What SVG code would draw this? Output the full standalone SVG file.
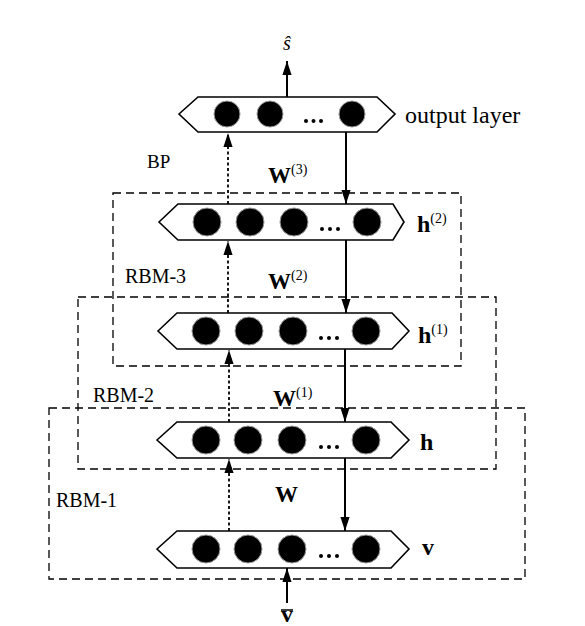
<svg xmlns="http://www.w3.org/2000/svg" width="585" height="626" viewBox="0 0 585 626">
<style>
  .hex { fill: #fff; stroke: #000; stroke-width: 1.6; }
  .neu { fill: #000; stroke: #9a9a9a; stroke-width: 1; }
  .dot { fill: #000; }
  .box { fill: none; stroke: #000; stroke-width: 1.3; stroke-dasharray: 8 5; }
  .solid { stroke: #000; stroke-width: 2; fill: none; }
  .dotted { stroke: #000; stroke-width: 1.8; fill: none; stroke-dasharray: 3 2.5; }
  .t { font-family: "Liberation Serif", "Times New Roman", serif; fill: #000; }
  .lbl { font-size: 20px; }
  .w { font-size: 23px; font-weight: bold; }
  .hl { font-size: 24px; font-weight: bold; }
  .sup { font-size: 14px; font-weight: normal; }
</style>
<defs>
  <marker id="ah" markerUnits="userSpaceOnUse" markerWidth="14" markerHeight="22" refX="20" refY="6.5" orient="auto" viewBox="0 0 20 13">
    <path d="M0,0 L20,6.5 L0,13 Z" fill="#000"/>
  </marker>
</defs>

<g id="rbm-boxes">
  <rect id="rbm3" class="box" x="113" y="193" width="348" height="173"/>
  <rect id="rbm2" class="box" x="78" y="297" width="418" height="172"/>
  <rect id="rbm1" class="box" x="49" y="408" width="476" height="171"/>
  <text class="t lbl" x="125" y="283">RBM-3</text>
  <text class="t lbl" x="93" y="402">RBM-2</text>
  <text class="t lbl" x="56" y="507">RBM-1</text>
  <text class="t" x="147" y="168" font-size="19">BP</text>
</g>

<g id="connectors">
  <line class="solid" x1="287" y1="97" x2="287" y2="61" marker-end="url(#ah)"/>
  <line class="solid" x1="346" y1="132" x2="346" y2="204" marker-end="url(#ah)"/>
  <line class="dotted" x1="228" y1="204" x2="228" y2="133" marker-end="url(#ah)"/>
  <line class="solid" x1="346" y1="240" x2="346" y2="313" marker-end="url(#ah)"/>
  <line class="dotted" x1="228" y1="313" x2="228" y2="241" marker-end="url(#ah)"/>
  <line class="solid" x1="345" y1="349" x2="345" y2="422" marker-end="url(#ah)"/>
  <line class="dotted" x1="229" y1="422" x2="229" y2="350" marker-end="url(#ah)"/>
  <line class="solid" x1="345" y1="458" x2="345" y2="531" marker-end="url(#ah)"/>
  <line class="dotted" x1="229" y1="531" x2="229" y2="459" marker-end="url(#ah)"/>
  <line class="solid" x1="287" y1="603" x2="287" y2="568" marker-end="url(#ah)"/>
  <text class="t w" x="268" y="183">W<tspan class="sup" dy="-9">(3)</tspan></text>
  <text class="t w" x="268" y="289">W<tspan class="sup" dy="-9">(2)</tspan></text>
  <text class="t w" x="273" y="406">W<tspan class="sup" dy="-9">(1)</tspan></text>
  <text class="t w" x="275" y="502">W</text>
</g>

<g id="output-layer">
  <polygon class="hex" points="179,114 198,97 377,97 395,114 377,132 198,132"/>
  <circle class="neu" cx="227" cy="114" r="13"/>
  <circle class="neu" cx="270" cy="114" r="13"/>
  <circle class="neu" cx="352" cy="114" r="13"/>
  <circle class="dot" cx="306" cy="121" r="2"/>
  <circle class="dot" cx="313.5" cy="121" r="2"/>
  <circle class="dot" cx="321" cy="121" r="2"/>
  <text class="t" x="405" y="123" font-size="24">output layer</text>
  <text class="t" x="287" y="50" font-size="20" font-style="italic" text-anchor="middle">ŝ</text>
</g>

<g id="h2-layer">
  <polygon class="hex" points="159,222 178,204 393,204 404,222 393,240 178,240"/>
  <circle class="neu" cx="207" cy="222" r="14"/>
  <circle class="neu" cx="250" cy="222" r="14"/>
  <circle class="neu" cx="294" cy="222" r="14"/>
  <circle class="neu" cx="367" cy="222" r="14"/>
  <circle class="dot" cx="322" cy="229" r="2"/>
  <circle class="dot" cx="330" cy="229" r="2"/>
  <circle class="dot" cx="338" cy="229" r="2"/>
  <text class="t hl" x="417" y="232">h<tspan class="sup" dy="-9">(2)</tspan></text>
</g>

<g id="h1-layer">
  <polygon class="hex" points="158,331 177,313 392,313 409,331 392,349 177,349"/>
  <circle class="neu" cx="206" cy="331" r="14"/>
  <circle class="neu" cx="249" cy="331" r="14"/>
  <circle class="neu" cx="293" cy="331" r="14"/>
  <circle class="neu" cx="366" cy="331" r="14"/>
  <circle class="dot" cx="321" cy="338" r="2"/>
  <circle class="dot" cx="329" cy="338" r="2"/>
  <circle class="dot" cx="337" cy="338" r="2"/>
  <text class="t hl" x="418" y="343">h<tspan class="sup" dy="-9">(1)</tspan></text>
</g>

<g id="h-layer">
  <polygon class="hex" points="157,440 177,422 391,422 409,440 391,458 177,458"/>
  <circle class="neu" cx="206" cy="440" r="14"/>
  <circle class="neu" cx="248" cy="440" r="14"/>
  <circle class="neu" cx="292" cy="440" r="14"/>
  <circle class="neu" cx="366" cy="440" r="14"/>
  <circle class="dot" cx="321" cy="447" r="2"/>
  <circle class="dot" cx="329" cy="447" r="2"/>
  <circle class="dot" cx="337" cy="447" r="2"/>
  <text class="t hl" x="420" y="450">h</text>
</g>

<g id="v-layer">
  <polygon class="hex" points="157,549 177,531 391,531 409,549 391,568 177,568"/>
  <circle class="neu" cx="206" cy="549" r="14"/>
  <circle class="neu" cx="248" cy="549" r="14"/>
  <circle class="neu" cx="292" cy="549" r="14"/>
  <circle class="neu" cx="366" cy="549" r="14"/>
  <circle class="dot" cx="321" cy="556" r="2"/>
  <circle class="dot" cx="329" cy="556" r="2"/>
  <circle class="dot" cx="337" cy="556" r="2"/>
  <text class="t hl" x="422" y="555">v</text>
</g>

<g id="input">
  <text class="t hl" x="287" y="622" font-size="20" text-anchor="middle">v</text>
  <line x1="281" y1="610" x2="293" y2="610" stroke="#000" stroke-width="1.5"/>
</g>
</svg>
